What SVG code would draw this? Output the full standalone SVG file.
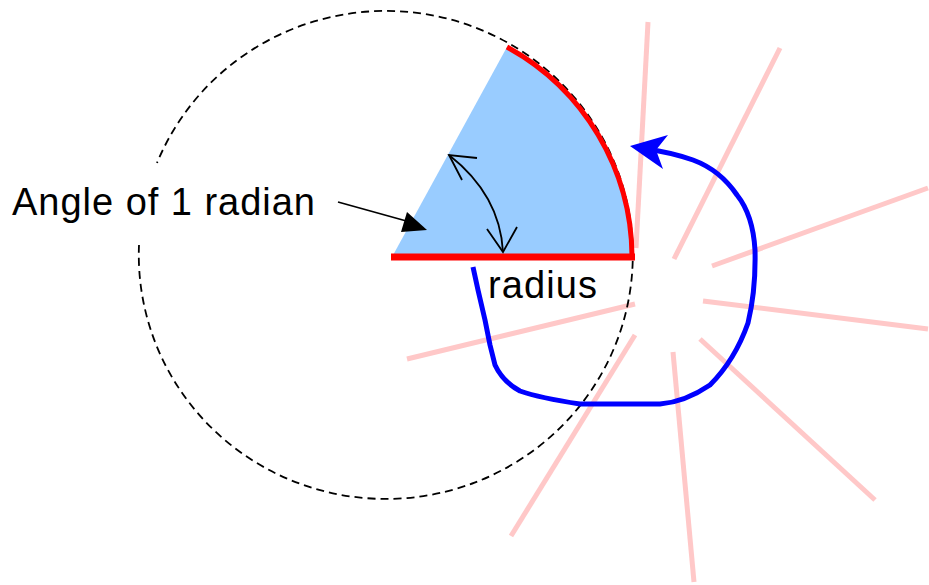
<svg xmlns="http://www.w3.org/2000/svg" width="929" height="585" viewBox="0 0 929 585">
<style>
.lbl{font-family:"Liberation Sans",Arial,sans-serif;font-size:38px;fill:#000}
.ray{stroke:#ffc8c8;stroke-width:5;stroke-linecap:butt;fill:none}
.thin{stroke:#000;stroke-width:1.8;fill:none}
</style>
<rect width="929" height="585" fill="#fff"/>
<g id="rays">
<line class="ray" x1="648" y1="22" x2="636" y2="248"/>
<line class="ray" x1="780" y1="48" x2="674" y2="259"/>
<line class="ray" x1="928" y1="188" x2="712" y2="266"/>
<line class="ray" x1="703" y1="301" x2="928" y2="329"/>
<line class="ray" x1="700" y1="339" x2="875" y2="500"/>
<line class="ray" x1="673" y1="352" x2="694" y2="582"/>
<line class="ray" x1="635" y1="335" x2="511" y2="536"/>
<line class="ray" x1="635" y1="304" x2="407" y2="359"/>
</g>
<g id="sector">
<path d="M392,257 L632,257 A240,240 0 0 0 507,47 Z" fill="#99ccff"/>
</g>
<g id="circle">
<path d="M139,245 A247,244 0 1 0 157,163" fill="none" stroke="#000" stroke-width="1.8" stroke-dasharray="8,5"/>
</g>
<g id="radius-line">
<line x1="391" y1="257" x2="635" y2="257" stroke="#ff0000" stroke-width="7"/>
</g>
<g id="arc-length">
<path d="M632,257 A240,240 0 0 0 507,47" fill="none" stroke="#ff0000" stroke-width="5"/>
</g>
<g id="label-angle">
<text class="lbl" x="12" y="215" textLength="303" lengthAdjust="spacing">Angle of 1 radian</text>
</g>
<g id="label-radius">
<text class="lbl" x="488" y="298" textLength="109" lengthAdjust="spacing">radius</text>
</g>
<g id="connectors">
<path d="M473,267 L478,290 L485,320 L490,345 L495,365 Q503,382 520,391 Q540,398 580,404 L660,404 Q685,402 710,385 Q735,360 748,323 Q756,290 755,250 Q753,215 737,195 Q720,170 693,160 Q670,152 645,149" fill="none" stroke="#0000ff" stroke-width="5" stroke-linejoin="round"/>
<polygon points="630,146 668,135 656,150 663,169" fill="#0000ff"/>
<path class="thin" d="M449,155 Q500,195 503,252"/>
<polyline class="thin" points="477,158 449,155 462,180"/>
<polyline class="thin" points="487,229 503,252 517,227"/>
<line class="thin" x1="338" y1="202" x2="410" y2="222"/>
<polygon points="427,230 407,212 401,232" fill="#000"/>
</g>
</svg>
